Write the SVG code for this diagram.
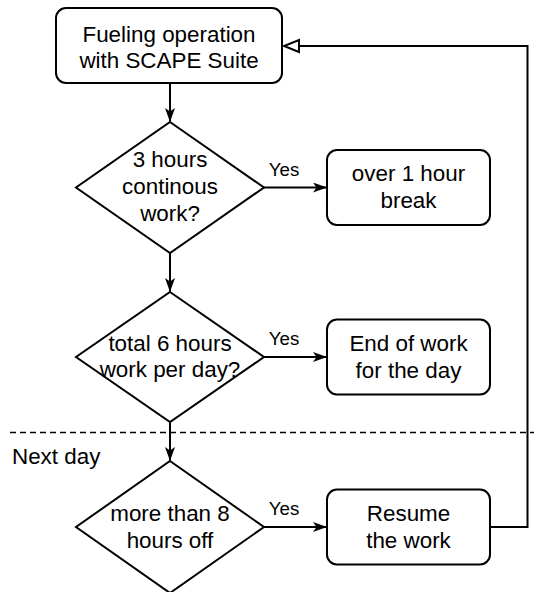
<svg xmlns="http://www.w3.org/2000/svg" width="534" height="592" viewBox="0 0 534 592">
  <style>
    .box { fill: #ffffff; stroke: #000000; stroke-width: 2; }
    .lbl { font-family: "Liberation Sans", Arial, sans-serif; font-size: 22.4px; fill: #000000; text-anchor: middle; }
    .yes { font-family: "Liberation Sans", Arial, sans-serif; font-size: 18.7px; fill: #000000; text-anchor: middle; }
    .nd { font-family: "Liberation Sans", Arial, sans-serif; font-size: 22.4px; fill: #000000; }
    .edge { fill: none; stroke: #000000; stroke-width: 2; }
    .dash { fill: none; stroke: #000000; stroke-width: 1.5; stroke-dasharray: 6 4; }
  </style>
  <defs>
    <marker id="arrow" viewBox="0 0 14 10" refX="13" refY="5" markerWidth="14" markerHeight="10" markerUnits="userSpaceOnUse" orient="auto">
      <path d="M0,0 L14,5 L0,10 L3.5,5 Z" fill="#000000"/>
    </marker>
    <marker id="open" viewBox="-2 -2 19 16" refX="15" refY="6" markerWidth="19" markerHeight="16" markerUnits="userSpaceOnUse" orient="auto">
      <path d="M0,0 L15,6 L0,12 Z" fill="#ffffff" stroke="#000000" stroke-width="2"/>
    </marker>
  </defs>

  <line class="dash" x1="10" y1="432.5" x2="534" y2="432.5"/>
  <text class="nd" x="12" y="464">Next day</text>

  <g id="connectors">
    <path class="edge" d="M170,83 V121" marker-end="url(#arrow)"/>
    <path class="edge" d="M263,187.5 H326" marker-end="url(#arrow)"/>
    <path class="edge" d="M170,253 V291" marker-end="url(#arrow)"/>
    <path class="edge" d="M263,357 H326" marker-end="url(#arrow)"/>
    <path class="edge" d="M170,423 V460" marker-end="url(#arrow)"/>
    <path class="edge" d="M263,527 H326" marker-end="url(#arrow)"/>
    <path class="edge" d="M490,527 H527.5 V46 H284" marker-end="url(#open)"/>
    <text class="yes" x="284" y="175.5">Yes</text>
    <text class="yes" x="284" y="345">Yes</text>
    <text class="yes" x="284" y="515">Yes</text>
  </g>

  <g id="start">
    <rect class="box" x="56" y="8" width="226" height="75" rx="10"/>
    <text class="lbl" x="169" y="41.5">Fueling operation</text>
    <text class="lbl" x="169" y="67.5">with SCAPE Suite</text>
  </g>

  <g id="decision1">
    <polygon class="box" points="170,122 264,187.5 170,253 76,187.5"/>
    <text class="lbl" x="170" y="167">3 hours</text>
    <text class="lbl" x="170" y="194">continous</text>
    <text class="lbl" x="170" y="221">work?</text>
  </g>

  <g id="break">
    <rect class="box" x="327" y="150" width="163" height="75" rx="10"/>
    <text class="lbl" x="408.5" y="181">over 1 hour</text>
    <text class="lbl" x="408.5" y="208">break</text>
  </g>

  <g id="decision2">
    <polygon class="box" points="170,292 264,357 170,422 76,357"/>
    <text class="lbl" x="170" y="350.5">total 6 hours</text>
    <text class="lbl" x="170" y="376.5">work per day?</text>
  </g>

  <g id="endofwork">
    <rect class="box" x="327" y="319.5" width="163" height="75" rx="10"/>
    <text class="lbl" x="408.5" y="350.5">End of work</text>
    <text class="lbl" x="408.5" y="377.5">for the day</text>
  </g>

  <g id="decision3">
    <polygon class="box" points="170,461 264,527 170,593 76,527"/>
    <text class="lbl" x="170" y="521">more than 8</text>
    <text class="lbl" x="170" y="548">hours off</text>
  </g>

  <g id="resume">
    <rect class="box" x="327" y="489.5" width="163" height="75" rx="10"/>
    <text class="lbl" x="408.5" y="521">Resume</text>
    <text class="lbl" x="408.5" y="548">the work</text>
  </g>
</svg>
